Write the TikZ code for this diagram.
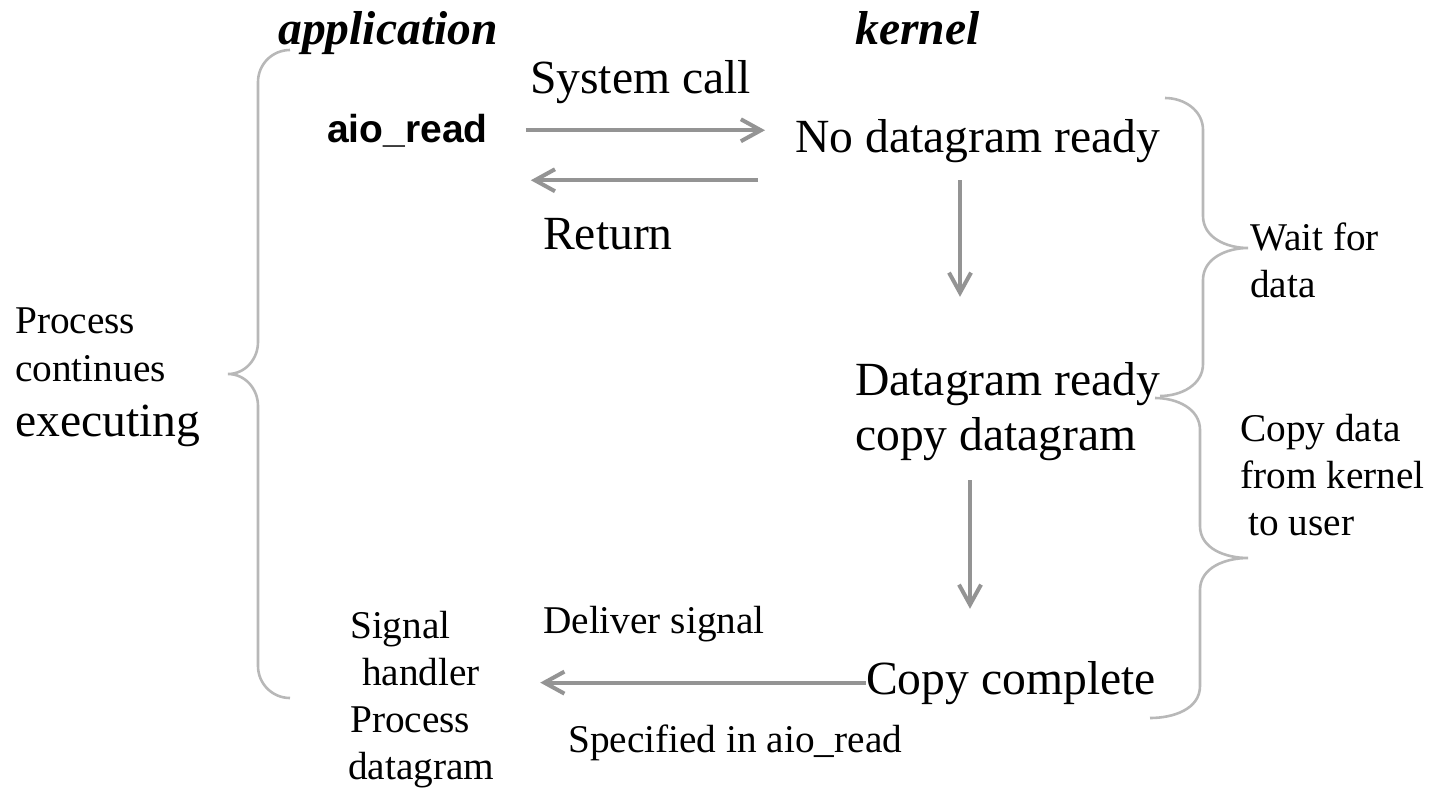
\documentclass[tikz,border=0pt]{standalone}
\usepackage{fontspec}
\setmainfont{Liberation Serif}
\setsansfont{Liberation Sans}
\usetikzlibrary{arrows.meta}

\begin{document}
\begin{tikzpicture}[x=1pt,y=-1pt,
  lbl/.style={inner sep=0pt, anchor=base west},
  big/.style={lbl, font=\fontsize{47.6}{56}\selectfont},
  small/.style={lbl, font=\fontsize{39.3}{47}\selectfont},
  head/.style={lbl, font=\fontsize{47.6}{56}\selectfont\bfseries\itshape},
  arr/.style={draw=black!42, line width=4pt,
    -{Straight Barb[length=20pt,width=22pt]}},
  brace/.style={draw=black!28, line width=2.6pt}]

\useasboundingbox (0,0) rectangle (1434,788);

% column headings
\node[head] (app) at (278,44) {application};
\node[head] (ker) at (855,44) {kernel};

% application side
\node[lbl, font=\fontsize{39}{47}\selectfont\sffamily\bfseries] (aio) at (327,142) {aio\_read};
\node[small] (sig1) at (350,638) {Signal};
\node[small] (sig2) at (362,685) {handler};
\node[small] (sig3) at (350,732) {Process};
\node[small] (sig4) at (348,779) {datagram};

% kernel side
\node[big] (ndr) at (795,152) {No datagram ready};
\node[big] (dgr) at (855,395) {Datagram ready};
\node[big] (cpd) at (855,450) {copy datagram};
\node[big] (ccp) at (866,694) {Copy complete};

% arrow labels
\node[big] (sys) at (530,93) {System call};
\node[big] (ret) at (543,249) {Return};
\node[small] (dlv) at (543,633) {Deliver signal};
\node[small] (spc) at (568,752) {Specified in aio\_read};

% brace labels
\node[small] (pc1) at (15,333) {Process};
\node[small] (pc2) at (15,381) {continues};
\node[big]   (pc3) at (15,436) {executing};
\node[small] (wf1) at (1250,250) {Wait for};
\node[small] (wf2) at (1250,297) {data};
\node[small] (cd1) at (1240,441) {Copy data};
\node[small] (cd2) at (1240,488) {from kernel};
\node[small] (cd3) at (1248,535) {to user};

% call / return
\draw[arr] ([xshift=38pt]aio.east) -- ([xshift=-30pt]aio.east -| ndr.west);
\draw[arr] ([xshift=-37pt,yshift=-50pt]aio.east -| ndr.west) -- ([xshift=43pt,yshift=-50pt]aio.east);

% kernel progression
\coordinate (d1a) at ([xshift=165pt,yshift=-18pt]ndr.south west);
\draw[arr] (d1a) -- ([yshift=65pt]dgr.north -| d1a);
\coordinate (d2a) at ([xshift=115pt,yshift=-20pt]cpd.south west);
\draw[arr] (d2a) -- ([yshift=52pt]ccp.north -| d2a);

% signal delivery
\draw[arr] (ccp.west) -- ([xshift=60pt]ccp.west -| sig2.east);

% left brace: process keeps running
\draw[brace] (290,50) to[out=180,in=90] (258,82) -- (258,342)
  to[out=270,in=0] (228,374) to[out=0,in=90] (258,406) -- (258,666)
  to[out=270,in=180] (290,698);

% right brace: wait for data
\draw[brace] (1165,98) to[out=0,in=90] (1203,130) -- (1203,216)
  to[out=270,in=180] (1248,248) to[out=180,in=90] (1203,280) -- (1203,364)
  to[out=270,in=0] (1160,396);

% right brace: copy data to user
\draw[brace] (1155,398) to[out=0,in=90] (1200,430) -- (1200,526)
  to[out=270,in=180] (1248,558) to[out=180,in=90] (1200,590) -- (1200,686)
  to[out=270,in=0] (1150,718);

\end{tikzpicture}
\end{document}
